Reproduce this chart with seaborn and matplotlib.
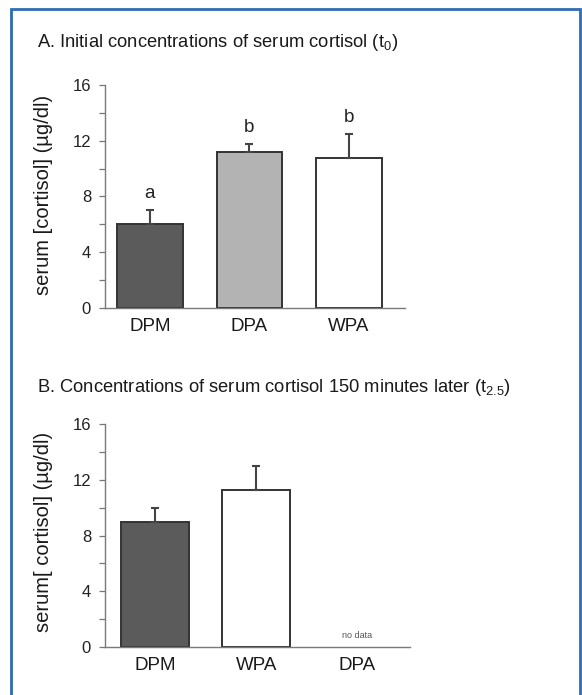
import matplotlib
matplotlib.use("Agg")
import matplotlib.pyplot as plt
import matplotlib.patches as mpatches
import seaborn as sns
import pandas as pd
import numpy as np

# ---- data ----
cats_a = ["DPM", "DPA", "WPA"]
vals_a = [6.0, 11.2, 10.75]
err_a = [1.0, 0.55, 1.7]
sig_a = ["a", "b", "b"]

cats_b = ["DPM", "WPA", "DPA"]
present_b = ["DPM", "WPA"]
vals_b = [9.0, 11.25]
err_b = [1.0, 1.75]

colors = {"DPM": "#5b5b5b", "DPA": "#b3b3b3", "WPA": "#ffffff"}
yticks = [0, 4, 8, 12, 16]

sns.set_theme(style="white")
plt.rcParams["font.family"] = ["Liberation Sans", "DejaVu Sans"]
plt.rcParams["mathtext.fontset"] = "custom"
plt.rcParams["mathtext.rm"] = "Liberation Sans"
plt.rcParams["mathtext.it"] = "Liberation Sans"

W, H = 582, 695
fig = plt.figure(figsize=(W / 100, H / 100), dpi=100)
fig.patch.set_facecolor("white")

def px_axes(left, right, top, bottom):
    return fig.add_axes([left / W, 1 - bottom / H, (right - left) / W, (bottom - top) / H])

ax_a = px_axes(105, 405, 85, 308)
ax_b = px_axes(105, 410, 424, 647)

def style_axis(ax, xlim):
    ax.set_ylim(0, 16)
    ax.set_xlim(*xlim)
    ax.set_yticks(yticks)
    ax.set_yticks([2, 6, 10, 14], minor=True)
    ax.set_yticklabels([str(t) for t in yticks], fontsize=12, color="#222222")
    ax.tick_params(axis="y", which="both", direction="out", length=4, width=0.9,
                   color="#777777", left=True, pad=6)
    ax.tick_params(axis="x", length=0, pad=7, labelsize=13.5, labelcolor="#1a1a1a")
    for s in ["top", "right"]:
        ax.spines[s].set_visible(False)
    for s in ["left", "bottom"]:
        ax.spines[s].set_color("#7a7a7a")
        ax.spines[s].set_linewidth(1.0)
    ax.set_xlabel("")
    ax.set_ylabel("")
    ax.set_facecolor("white")

# ---- Panel A ----
df_a = pd.DataFrame({"group": cats_a, "value": vals_a})
sns.barplot(data=df_a, x="group", y="value", hue="group", order=cats_a,
            palette=colors, width=0.66, edgecolor="#333333", linewidth=1.4,
            errorbar=None, legend=False, ax=ax_a, saturation=1)
pos_a = np.arange(len(cats_a))
ax_a.errorbar(pos_a, vals_a, yerr=[np.zeros(len(err_a)), err_a], fmt="none",
              ecolor="#444444", elinewidth=1.5, capsize=3, capthick=1.5, zorder=5)
for p, v, e, s in zip(pos_a, vals_a, err_a, sig_a):
    ax_a.text(p, v + e + 0.6, s, ha="center", va="bottom", fontsize=13.5, color="#222222")
style_axis(ax_a, (-0.452, 2.563))

# ---- Panel B ----
df_b = pd.DataFrame({"group": present_b, "value": vals_b})
sns.barplot(data=df_b, x="group", y="value", hue="group", order=cats_b,
            hue_order=present_b, palette=colors, width=0.67, edgecolor="#333333",
            linewidth=1.4, errorbar=None, legend=False, ax=ax_b, saturation=1)
pos_b = [cats_b.index(c) for c in present_b]
ax_b.errorbar(pos_b, vals_b, yerr=[np.zeros(len(err_b)), err_b], fmt="none",
              ecolor="#444444", elinewidth=1.5, capsize=3, capthick=1.5, zorder=5)
ax_b.text(cats_b.index("DPA"), 0.5, "no data", ha="center", va="bottom",
          fontsize=6.5, color="#555555")
style_axis(ax_b, (-0.495, 2.52))
ax_b.set_xticks(range(len(cats_b)))
ax_b.set_xticklabels(cats_b)

# ---- titles & labels ----
fig.text(37 / W, 1 - 47 / H, "A. Initial concentrations of serum cortisol (t$_{0}$)",
         ha="left", va="baseline", fontsize=13.2, color="#1a1a1a")
fig.text(37 / W, 1 - 392 / H, "B. Concentrations of serum cortisol 150 minutes later (t$_{2.5}$)",
         ha="left", va="baseline", fontsize=13.2, color="#1a1a1a")
fig.text(44 / W, 1 - 195 / H, "serum [cortisol] (µg/dl)", rotation=90,
         ha="center", va="center", fontsize=14.5, color="#1a1a1a")
fig.text(44 / W, 1 - 532 / H, "serum[ cortisol] (µg/dl)", rotation=90,
         ha="center", va="center", fontsize=14.5, color="#1a1a1a")

# ---- blue frame ----
frame = mpatches.Rectangle((11 / W, -0.02), (580 - 11) / W, 1.02 - 9 / H,
                           transform=fig.transFigure, fill=False,
                           edgecolor="#2e6cb3", linewidth=2.0, clip_on=False)
fig.patches.append(frame)

fig.savefig("out.png", dpi=100, facecolor="white")
